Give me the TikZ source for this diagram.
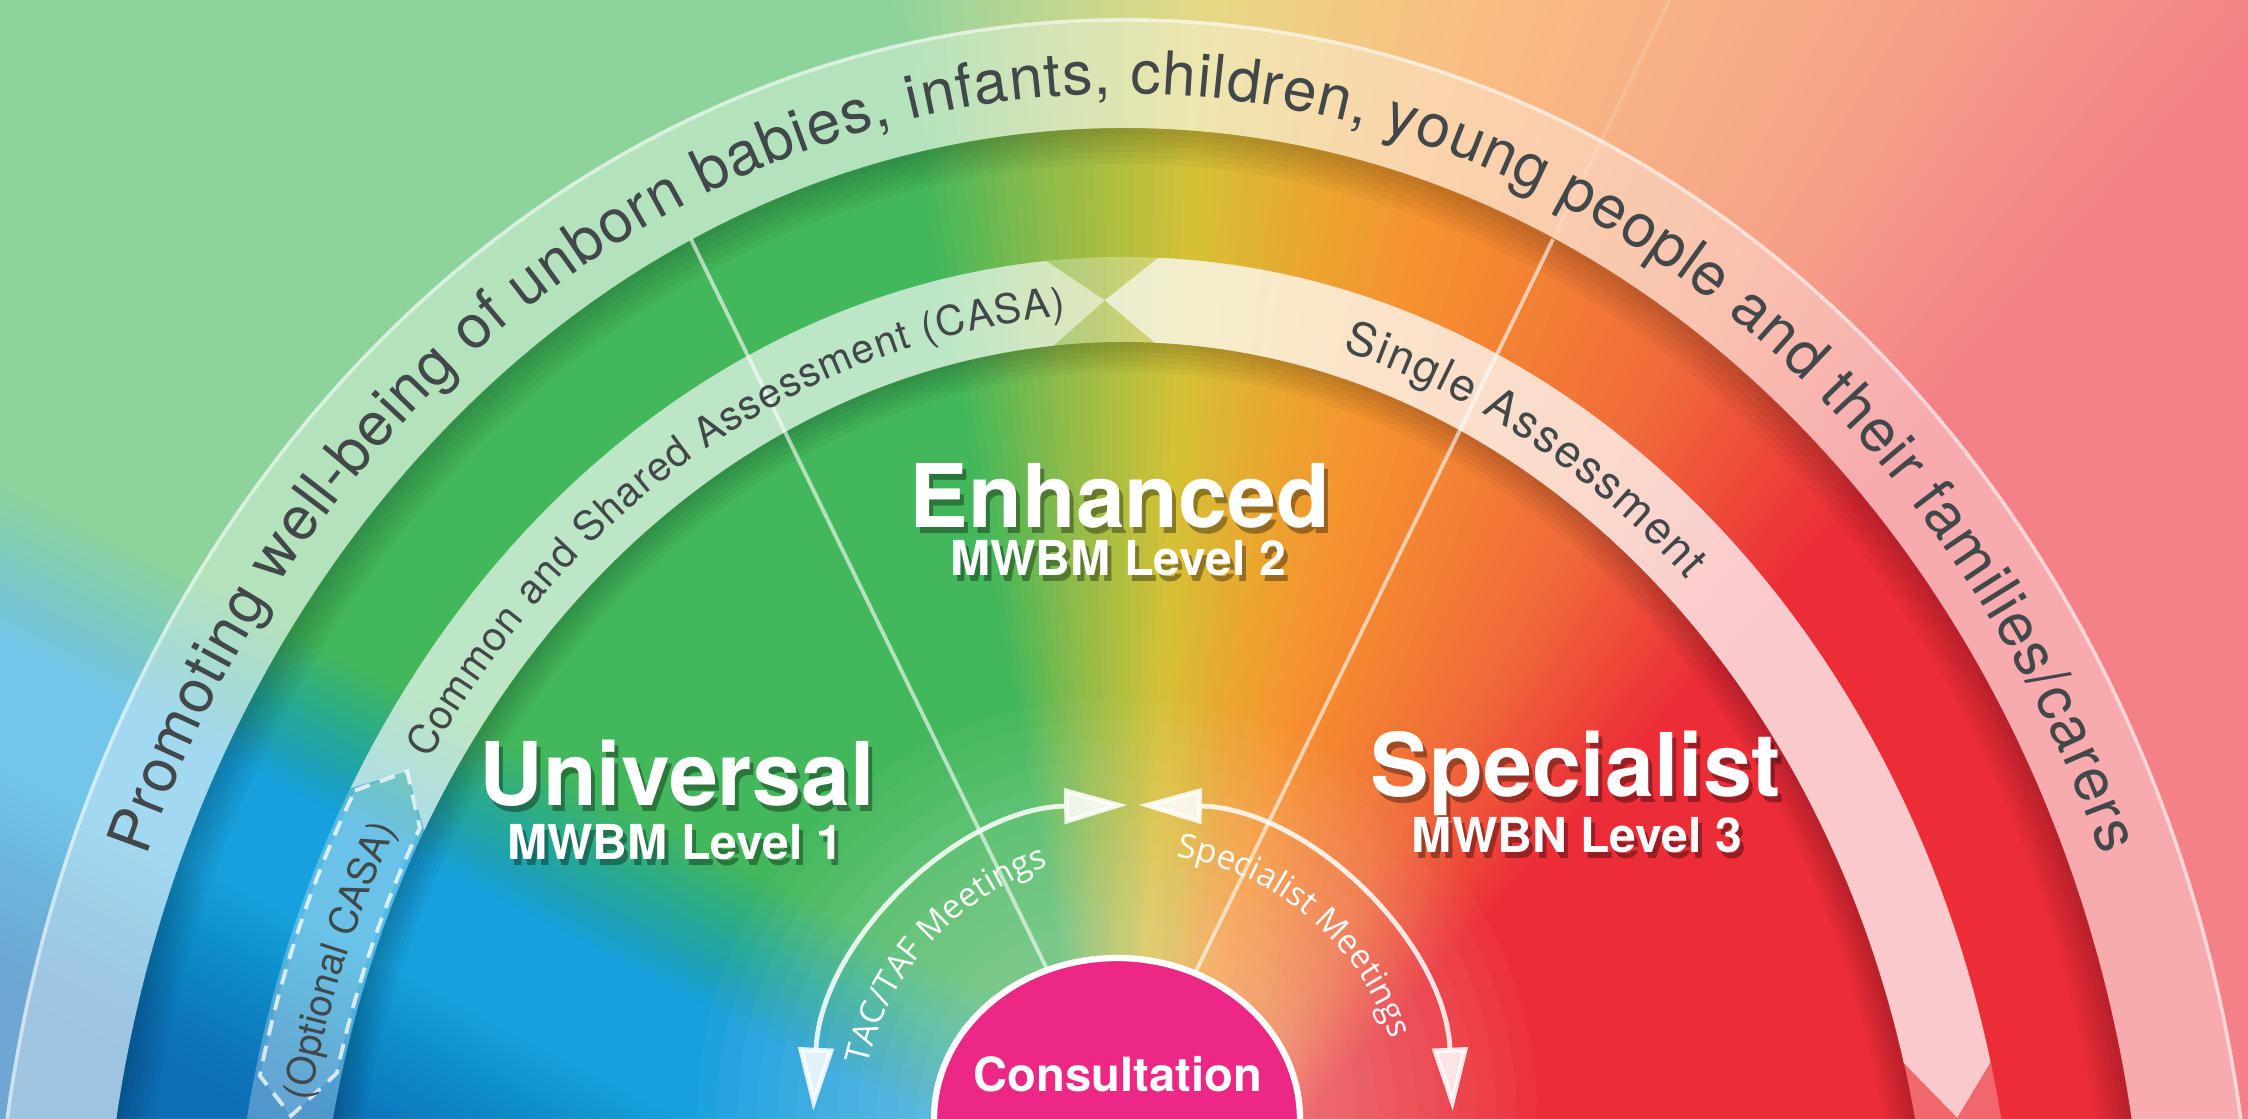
\documentclass[tikz,border=0pt]{standalone}
\usepackage{fontspec}
\usetikzlibrary{arrows.meta,decorations.text,calc}

\newfontfamily\heros{TeX Gyre Heros}
\newfontfamily\meetfamily{Open Sans}

\definecolor{cRed}{HTML}{EC2D37}
\definecolor{cOrRed}{HTML}{F06A3A}
\definecolor{cOrange}{HTML}{F6932F}
\definecolor{cAmber}{HTML}{EBA52F}
\definecolor{cYellow}{HTML}{D5C136}
\definecolor{cOlive}{HTML}{8DBB4A}
\definecolor{cGreen}{HTML}{43B75B}
\definecolor{cBlue}{HTML}{17A0DD}
\definecolor{cDeepBlue}{HTML}{0D6DB5}
\definecolor{bandtext}{HTML}{424849}
\definecolor{consult}{HTML}{EC2884}

\newcommand{\promfont}{\heros\fontsize{17.2}{20}\selectfont\color{bandtext}}
\newcommand{\casafont}{\heros\fontsize{11.6}{13}\selectfont\color{bandtext}}
\newcommand{\singlefont}{\heros\fontsize{13}{15}\selectfont\color{bandtext}}
\newcommand{\optfont}{\heros\fontsize{11}{13}\selectfont\color{bandtext}}
\newcommand{\meetfont}{\meetfamily\fontsize{9.5}{11}\selectfont\color{white}}

\tikzset{
  levelname/.style={font=\heros\bfseries\fontsize{25}{30}\selectfont, text=white, anchor=base, inner sep=0pt},
  levelsub/.style={font=\heros\bfseries\fontsize{13.7}{16}\selectfont, text=white, anchor=base, inner sep=0pt},
  outerband/.style={white, opacity=.6},
  bandfaint/.style={white, opacity=.28},
  casaband/.style={white, opacity=.52},
  singleband/.style={white, opacity=.65},
  optionalbox/.style={fill=white, fill opacity=.12, draw=white, draw opacity=.75, line width=1.1pt, dash pattern=on 4.5pt off 3pt},
  divider/.style={white, opacity=.6, line width=1.1pt},
  meetarrow/.style={white, opacity=.85, line width=1.4pt, {Triangle[length=18pt,width=10pt]}-{Triangle[length=18pt,width=10pt]}},
  consultshape/.style={fill=consult, draw=white, line width=1.8pt},
  consulttext/.style={font=\heros\bfseries\fontsize{13.4}{16}\selectfont, text=white, anchor=base, inner sep=0pt},
}

% white title with a soft drop shadow
\newcommand{\shadowlabel}[4]{%
  \node[#1, text=black, text opacity=.35] at ($(#3)+(4,-6)$) {#4};
  \node[#1] (#2) at (#3) {#4};}

\begin{document}
\begin{tikzpicture}[x=0.01cm, y=0.01cm]
  \useasboundingbox (0,0) rectangle (2248,1119);
  \clip (0,0) rectangle (2248,1119);

  % sweep of colours round the hub: red - orange - yellow - green
  \begin{scope}[shift={(1124,-200)}]
    \foreach \angA/\angB/\colA/\colB in {5/48/cRed/cRed, 48/60/cRed/cOrRed, 60/75/cOrRed/cOrange, 75/80/cOrange/cAmber, 80/86.5/cAmber/cYellow, 86.5/94/cYellow/cOlive, 94/100/cOlive/cGreen, 100/176/cGreen/cGreen} {
      \pgfmathtruncatemacro\nsteps{max(1,round((\angB-\angA)*2))}
      \foreach \st in {1,...,\nsteps} {
        \pgfmathsetmacro\wa{\angA+(\angB-\angA)*(\st-1)/\nsteps}
        \pgfmathsetmacro\wb{\angA+(\angB-\angA)*\st/\nsteps+0.4}
        \pgfmathtruncatemacro\wpc{100*(\st-0.5)/\nsteps}
        \colorlet{wedgecol}{\colB!\wpc!\colA}
        \fill[wedgecol] (0,0) -- (\wa:2300) -- (\wb:2300) -- cycle;
      }
    }
  \end{scope}

  % blue coming in from the lower left
  \begin{scope}[shift={(0,559)}, rotate=-27.5]
    \foreach \lay in {1,...,30} {
      \pgfmathsetmacro\lvdk{70-140*(\lay-1)/29}
      \pgfmathsetmacro\lop{1/(31-\lay)}
      \fill[cBlue, opacity=\lop] (-1000,\lvdk) rectangle (4000,-3000);
    }
  \end{scope}
  \begin{scope}[shift={(0,239)}, rotate=-27.5]
    \foreach \lay in {1,...,30} {
      \pgfmathsetmacro\lvdk{100-200*(\lay-1)/29}
      \pgfmathsetmacro\lop{1/(31-\lay)}
      \fill[cDeepBlue, opacity=\lop] (-1000,\lvdk) rectangle (4000,-3000);
    }
  \end{scope}

  % glow round the consultation
  \foreach \gr in {200,220,...,420}
    \fill[white, opacity=.03] (1117,0) circle[radius=\gr];

  % soft shade under the bands
  \foreach \sh in {6,12,...,36}
    \fill[black, opacity=.035, even odd rule] (1124,-200) ellipse[x radius=1022, y radius=1191] (1124,-200) ellipse[x radius=1022-\sh, y radius=1191-\sh];
  \foreach \sh in {5,10,...,30}
    \fill[black, opacity=.035, even odd rule] (1124,-200) ellipse[x radius=808, y radius=977] (1124,-200) ellipse[x radius=808-\sh, y radius=977-\sh];

  % paler outside the rainbow
  \fill[white, opacity=.4, even odd rule] (0,0) rectangle (2248,1119) (1124,-200) ellipse[x radius=1132, y radius=1301];

  % dividers between the three levels
  \coordinate (hub) at (1122,-4);
  \coordinate (divL) at ($(hub)+(116:983)$);
  \coordinate (divR) at ($(hub)+(64:983)$);
  \coordinate (divTop) at ($(hub)+(64:1300)$);
  \draw[divider] (hub) -- (divL);
  \draw[divider] (hub) -- (divR);
  \draw[divider, opacity=.15] (divR) -- (divTop);

  % outer band
  \fill[outerband, even odd rule] (1124,-200) ellipse[x radius=1132, y radius=1301] (1124,-200) ellipse[x radius=1022, y radius=1191];
  \draw[white, opacity=.5, line width=1pt] (1124,-200) ellipse[x radius=1130, y radius=1299];

  \begin{scope}[shift={(1124,-200)}]
    % assessment ring, faint under the arrows
    \fill[bandfaint, even odd rule] (0,0) ellipse[x radius=893, y radius=1062] (0,0) ellipse[x radius=808, y radius=977];
    % optional CASA, dashed arrow
    \filldraw[optionalbox] (150:888 and 1057) -- (147.5:850 and 1019) -- (150:813 and 982)
      arc[start angle=150, end angle=165.5, x radius=813, y radius=982] -- (168.5:850 and 1019)
      -- (166.7:888 and 1057) arc[start angle=166.7, end angle=150, x radius=888, y radius=1057] -- cycle;
    % CASA
    \fill[casaband] (150:893 and 1062) arc[start angle=150, end angle=95, x radius=893, y radius=1062]
      -- (91.3:850 and 1019) -- (95:808 and 977) arc[start angle=95, end angle=150, x radius=808, y radius=977]
      -- (147.5:850 and 1019) -- cycle;
    % single assessment
    \fill[singleband] (87.8:893 and 1062) arc[start angle=87.8, end angle=14, x radius=893, y radius=1062]
      -- (11.4:850 and 1019) -- (15.2:808 and 977) arc[start angle=15.2, end angle=87.8, x radius=808, y radius=977]
      -- (91.3:850 and 1019) -- cycle;

    % band texts
    \path[decorate, decoration={text along path, text align={fit to path}, text={|\promfont|Promoting well-being of unborn babies, infants, children, young people and their families/carers}}]
      (157.8:1056 and 1225) arc[start angle=157.8, end angle=22.3, x radius=1056, y radius=1225];
    \path[decorate, decoration={text along path, text align={fit to path}, text={|\casafont|Common and Shared Assessment (CASA)}}]
      (146.2:836 and 1005) arc[start angle=146.2, end angle=94, x radius=836, y radius=1005];
    \path[decorate, decoration={text along path, text align={fit to path}, text={|\singlefont|Single Assessment}}]
      (74.8:834 and 1003) arc[start angle=74.8, end angle=47.5, x radius=834, y radius=1003];
    \path[decorate, decoration={text along path, text align=center, text={|\optfont|(Optional CASA)}}]
      (173:834 and 1003) arc[start angle=173, end angle=145, x radius=834, y radius=1003];
  \end{scope}

  % meetings
  \begin{scope}[shift={(1133,-6)}]
    \draw[meetarrow] (177.5:320) arc[start angle=177.5, end angle=91, radius=320];
    \draw[meetarrow] (89:320) arc[start angle=89, end angle=2.5, radius=320];
    \path[decorate, decoration={text along path, text align=center, text={|\meetfont|TAC/TAF Meetings}}]
      (172.7:272) arc[start angle=172.7, end angle=102.7, radius=272];
    \path[decorate, decoration={text along path, text align=center, text={|\meetfont|Specialist Meetings}}]
      (84.6:272) arc[start angle=84.6, end angle=14.6, radius=272];
  \end{scope}

  % consultation
  \filldraw[consultshape] (1117,0) ellipse[x radius=183, y radius=161];
  \node[consulttext] (consultation) at (1118,27) {Consultation};

  % the three levels
  \shadowlabel{levelname}{enhanced}{1120,591}{Enhanced}
  \shadowlabel{levelsub}{enhancedsub}{1118,543}{MWBM Level 2}
  \shadowlabel{levelname}{universal}{677,313}{Universal}
  \shadowlabel{levelsub}{universalsub}{675,259}{MWBM Level 1}
  \shadowlabel{levelname}{specialist}{1576,322}{Specialist}
  \shadowlabel{levelsub}{specialistsub}{1577,266}{MWBN Level 3}
\end{tikzpicture}
\end{document}
